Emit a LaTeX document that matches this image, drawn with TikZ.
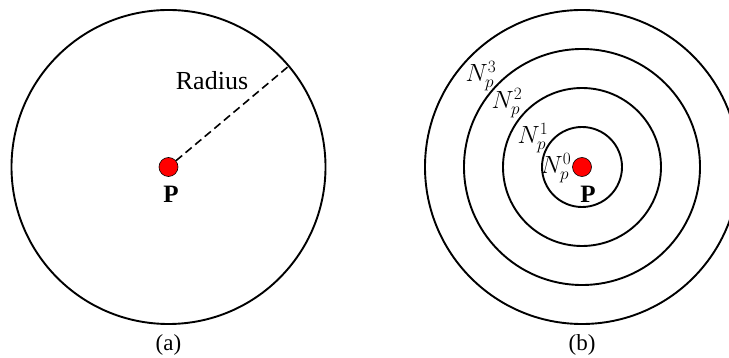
\documentclass[tikz,border=0pt]{standalone}
\usepackage{fontspec}
\setmainfont{Liberation Serif}
\begin{document}
\begin{tikzpicture}[x=1pt,y=-1pt,
  ring/.style={circle,draw,line width=1.9pt,inner sep=0pt,minimum size=#1},
  dot/.style={circle,draw,fill=red,line width=0.6pt,inner sep=0pt,minimum size=19pt},
  lbl/.style={font=\fontsize{26}{30}\selectfont,inner sep=0pt},
  captxt/.style={font=\fontsize{23}{27}\selectfont,inner sep=0pt},
  pl/.style={font=\fontsize{25}{29}\selectfont\bfseries,inner sep=0pt},
  mlbl/.style={font=\fontsize{25}{29}\selectfont,inner sep=0pt}]
\useasboundingbox (0,0) rectangle (729,358);
\clip (0,0) rectangle (729,358);
% (a)
\node[ring=314pt] (ca) at (168.5,167) {};
\node[dot] (pa) at (168.5,167) {};
\node[pl] (Pa) at (171,194) {P};
\node[lbl] (rad) at (212,81) {Radius};
\draw[line width=1.6pt,dash pattern=on 8pt off 4.5pt] (pa) -- (ca.40);
\node[captxt] (capa) at (168.5,345) {(a)};
% (b)
\node[ring=314pt] (r3) at (582,167) {};
\node[ring=236pt] (r2) at (582,167) {};
\node[ring=158pt] (r1) at (582,167) {};
\node[ring=80pt] (r0) at (582,167) {};
\node[dot] (pb) at (582,167) {};
\node[pl] (Pb) at (588,194) {P};
\node[mlbl] (n3) at (481,76) {$N_p^3$};
\node[mlbl] (n2) at (507,103) {$N_p^2$};
\node[mlbl] (n1) at (533,138) {$N_p^1$};
\node[mlbl] (n0) at (556,168) {$N_p^0$};
\node[captxt] (capb) at (582,345) {(b)};
\end{tikzpicture}
\end{document}
